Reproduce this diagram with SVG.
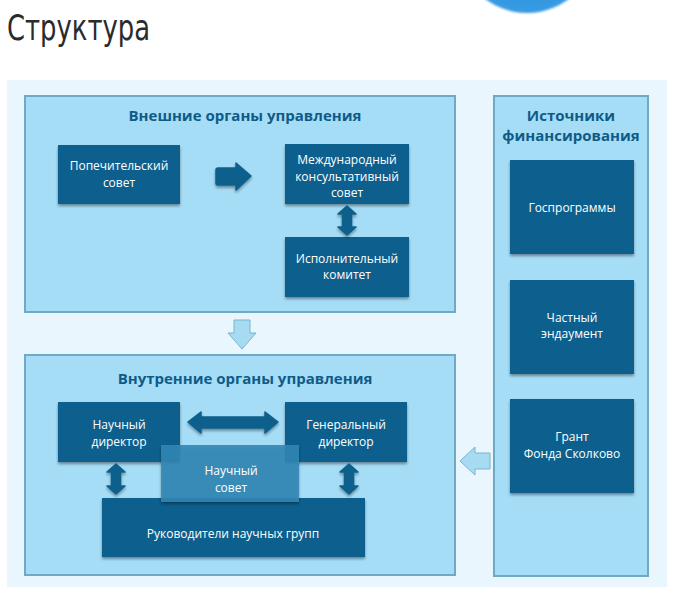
<svg xmlns="http://www.w3.org/2000/svg" width="673" height="603" viewBox="0 0 673 603">
<defs>
<radialGradient id="ball" cx="0.5" cy="0.3" r="0.7">
<stop offset="0" stop-color="#6fc4f5"/>
<stop offset="0.7" stop-color="#2a93e0"/>
<stop offset="1" stop-color="#3a9be3"/>
</radialGradient>
<filter id="sh" x="-10%" y="-10%" width="130%" height="140%">
<feGaussianBlur in="SourceAlpha" stdDeviation="1.5"/>
<feOffset dx="0" dy="2" result="b"/>
<feComponentTransfer><feFuncA type="linear" slope="0.4"/></feComponentTransfer>
<feMerge><feMergeNode/><feMergeNode in="SourceGraphic"/></feMerge>
</filter>
<filter id="blur1"><feGaussianBlur stdDeviation="1.2"/></filter>
</defs>
<style>
.panel{fill:#a6ddf6;stroke:#6fa9c4;stroke-width:2}
.box{fill:#0d5f8d;filter:url(#sh)}
.soft{fill:#3386b5;fill-opacity:0.88;filter:url(#sh)}
.hd{font-family:"Open Sans","DejaVu Sans",sans-serif;font-weight:bold;font-size:15px;fill:#0f5b88;text-anchor:middle}
.bt{font-family:"Open Sans","DejaVu Sans",sans-serif;font-size:12px;fill:#ffffff;text-anchor:middle}
.dark{fill:#0f5f8c;filter:url(#sh)}
.light{fill:#a7dbf2;stroke:#78b4d0;stroke-width:1}
</style>
<rect width="673" height="603" fill="#ffffff"/>
<ellipse cx="527" cy="-58" rx="70" ry="71" fill="url(#ball)" filter="url(#blur1)"/>
<text x="7" y="40" font-family="'DejaVu Sans Condensed','DejaVu Sans',sans-serif" font-stretch="condensed" font-size="36" fill="#2b2b2b" textLength="143" lengthAdjust="spacingAndGlyphs">Структура</text>
<rect x="7" y="80" width="660" height="507" fill="#eaf6fd"/>

<g id="panel-external">
<rect class="panel" x="25" y="96" width="430" height="216"/>
<text class="hd" x="245" y="121">Внешние органы управления</text>
</g>
<g id="panel-internal">
<rect class="panel" x="25" y="355" width="430" height="220"/>
<text class="hd" x="245" y="384">Внутренние органы управления</text>
</g>
<g id="panel-finance">
<rect class="panel" x="494" y="96" width="154" height="480"/>
<text class="hd" x="571" y="121">Источники</text>
<text class="hd" x="571" y="141">финансирования</text>
</g>

<g id="node-popech">
<rect class="box" x="58" y="145" width="122" height="59"/>
<text class="bt" x="119" y="170">Попечительский</text>
<text class="bt" x="119" y="187">совет</text>
</g>
<g id="node-mks">
<rect class="box" x="285" y="144" width="124" height="60"/>
<text class="bt" x="347" y="164">Международный</text>
<text class="bt" x="347" y="181">консультативный</text>
<text class="bt" x="347" y="197">совет</text>
</g>
<g id="node-isp">
<rect class="box" x="285" y="237" width="124" height="60"/>
<text class="bt" x="347" y="263">Исполнительный</text>
<text class="bt" x="347" y="279">комитет</text>
</g>
<g id="node-nauch-dir">
<rect class="box" x="58" y="402" width="122" height="60"/>
<text class="bt" x="119" y="429">Научный</text>
<text class="bt" x="119" y="446">директор</text>
</g>
<g id="node-gen-dir">
<rect class="box" x="285" y="402" width="122" height="60"/>
<text class="bt" x="346" y="429">Генеральный</text>
<text class="bt" x="346" y="446">директор</text>
</g>
<g id="node-ruk">
<rect class="box" x="102" y="498" width="263" height="59"/>
<text class="bt" x="233" y="538">Руководители научных групп</text>
</g>
<g id="node-nauch-sovet">
<rect class="soft" x="161" y="445" width="138" height="57"/>
<text class="bt" x="231" y="475">Научный</text>
<text class="bt" x="231" y="492">совет</text>
</g>
<g id="node-gosprog">
<rect class="box" x="510" y="160" width="124" height="94"/>
<text class="bt" x="572" y="212">Госпрограммы</text>
</g>
<g id="node-endaument">
<rect class="box" x="510" y="280" width="124" height="94"/>
<text class="bt" x="572" y="322">Частный</text>
<text class="bt" x="572" y="338">эндаумент</text>
</g>
<g id="node-grant">
<rect class="box" x="510" y="399" width="124" height="94"/>
<text class="bt" x="572" y="441">Грант</text>
<text class="bt" x="572" y="458">Фонда Сколково</text>
</g>

<g id="connectors">
<path class="dark" d="M216 170 Q216 168 218 168 L236 168 L236 163 L251 176 L236 190 L236 185 L218 185 Q216 185 216 183 Z" stroke="#0f5f8c" stroke-width="1.5" stroke-linejoin="round"/>
<path class="dark" d="M347 206 L356 214 L351.5 214 L351.5 227 L356 227 L347 235 L338 227 L342.5 227 L342.5 214 L338 214 Z" stroke="#0f5f8c" stroke-width="1.5" stroke-linejoin="round"/>
<path class="dark" d="M188 422 L201 412 L201 417 L265 417 L265 412 L278 422 L265 433 L265 428 L201 428 L201 433 Z" stroke="#0f5f8c" stroke-width="1.5" stroke-linejoin="round"/>
<path class="dark" d="M116 464 L125 472 L120.5 472 L120.5 486 L125 486 L116 494 L107 486 L111.5 486 L111.5 472 L107 472 Z" stroke="#0f5f8c" stroke-width="1.5" stroke-linejoin="round"/>
<path class="dark" d="M349 464 L358 472 L353.5 472 L353.5 486 L358 486 L349 494 L340 486 L344.5 486 L344.5 472 L340 472 Z" stroke="#0f5f8c" stroke-width="1.5" stroke-linejoin="round"/>
<path class="light" d="M234 320 L250 320 L250 333 L256 333 L242 349 L228 333 L234 333 Z"/>
<path class="light" d="M490 453 L490 469 L475 469 L475 475 L460 461 L475 447 L475 453 Z"/>
</g>
</svg>
